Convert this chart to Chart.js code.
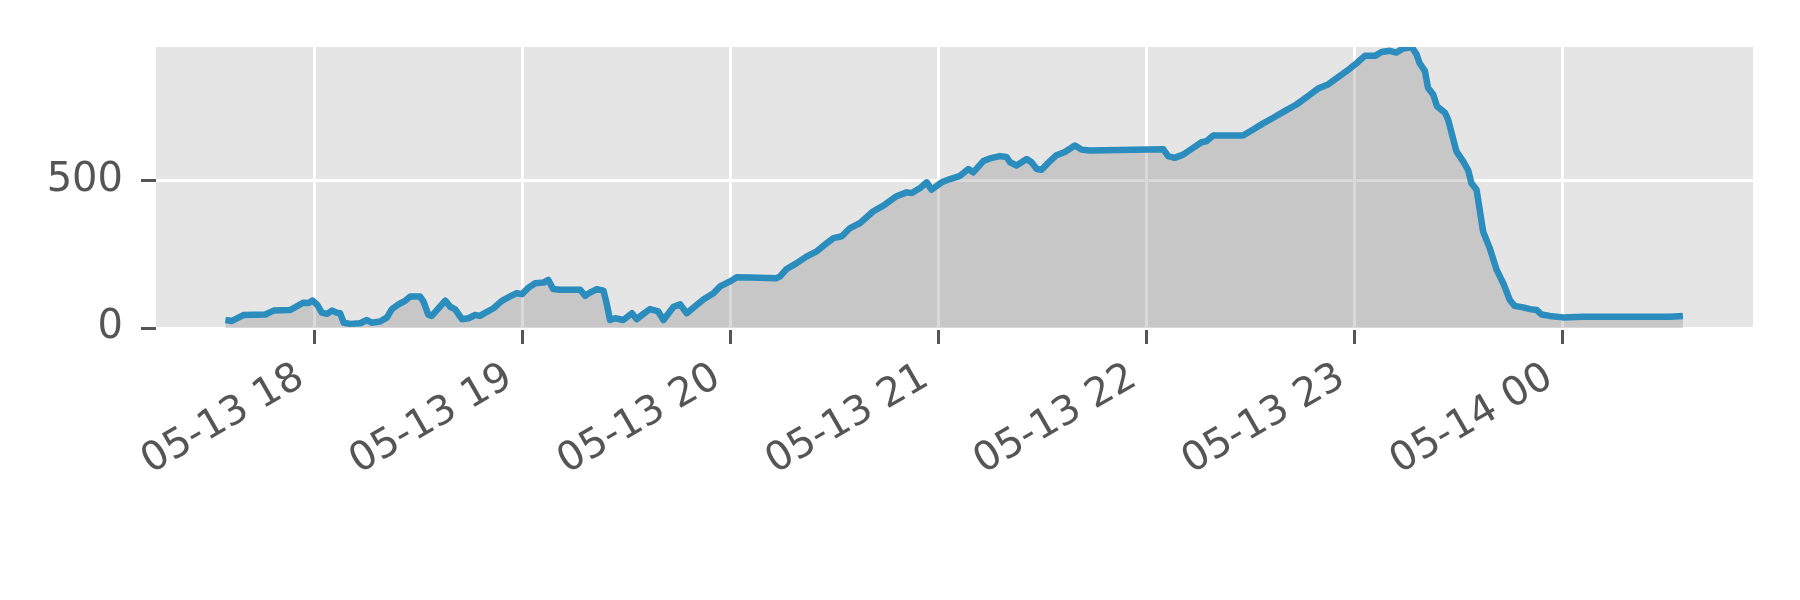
<!DOCTYPE html>
<html><head><meta charset="utf-8">
<script src="https://cdn.jsdelivr.net/npm/chart.js@4.4.1/dist/chart.umd.min.js"></script>
<style>html,body{margin:0;padding:0;background:#fff;}</style>
</head><body>
<canvas id="c" width="1800" height="600" style="width:1800px;height:600px;display:block"></canvas>
<script>
// time in minutes relative to 05-13 18:00
const minutesAfter18 = [
-25.6,-23.7,-20.4,-14.1,-11.7,-6.9,-3.1,-1.6,-0.5,0.8,2.2,3.7,5.1,6.5,7.5,8.5,10.4,13.3,15.2,16.6,
19.0,21.0,22.4,24.3,26.2,27.7,30.5,31.5,32.9,33.9,37.8,39.2,40.6,42.6,44.5,46.4,47.8,49.8,51.7,54.1,
56.5,58.4,59.9,61.8,63.7,66.1,67.5,68.9,70.9,76.7,78.1,79.5,81.5,83.4,84.3,85.3,86.8,89.1,91.6,93.0,
94.9,96.8,99.2,100.7,103.6,105.5,107.4,109.3,112.2,115.1,117.0,119.9,121.8,125.7,133.3,134.3,136.2,139.1,142.0,144.9,
147.8,149.7,152.1,154.5,157.4,161.2,164.1,167.9,170.8,172.3,174.7,176.6,178.0,180.9,183.3,186.2,188.6,190.0,192.9,194.8,
197.7,199.6,200.6,202.5,205.4,206.8,208.3,209.7,211.6,214.0,216.4,219.3,221.2,223.6,244.8,246.2,248.1,250.5,253.4,255.8,
257.3,259.2,267.8,270.7,273.6,276.5,279.4,283.2,286.6,289.4,292.3,295.7,298.6,300.5,302.9,305.8,307.7,310.1,312.0,313.9,
316.4,317.8,318.7,320.2,321.1,322.6,323.7,326.0,326.9,329.3,331.2,332.7,333.6,335.1,337.0,338.9,340.9,342.8,344.7,346.1,
348.5,350.5,352.4,353.8,356.2,360.0,365.8,390.8,394.6
];
const counts = [
27,24,44,46,59,61,86,85,93,80,52,48,59,52,50,18,14,16,27,18,
22,36,64,80,92,107,107,90,45,41,93,72,64,30,33,44,41,55,67,92,
107,118,115,137,152,154,163,132,130,130,109,120,132,127,84,27,33,27,50,30,
48,64,56,27,72,80,50,69,97,118,141,158,172,171,169,175,200,220,243,260,
288,305,311,339,356,396,415,447,460,458,475,494,469,494,505,516,539,528,566,575,
583,580,562,551,573,562,539,537,560,586,597,619,605,602,606,583,577,588,611,630,
634,653,653,673,694,713,733,758,787,812,826,855,880,898,923,923,936,940,934,948,
953,928,898,872,815,792,752,730,707,599,566,535,492,469,327,271,197,152,95,75,
70,64,61,46,41,36,38,38,41
];
const tickMinutes = [0, 60, 120, 180, 240, 300, 360];
const tickLabels = ['05-13 18', '05-13 19', '05-13 20', '05-13 21', '05-13 22', '05-13 23', '05-14 00'];
const yTickValues = [0, 500];
const xRange = [-45.6, 414.8];
const yRange = [0, 953];

const bgPlugin = {
  id: 'bg',
  beforeDraw(chart) {
    const a = chart.chartArea, ctx = chart.ctx;
    ctx.save();
    ctx.fillStyle = '#E5E5E5';
    ctx.fillRect(a.left, a.top, a.right - a.left, a.bottom - a.top);
    ctx.restore();
  }
};

const font = {family: 'DejaVu Sans', size: 40};
new Chart(document.getElementById('c'), {
  type: 'line',
  data: {
    datasets: [{
      data: minutesAfter18.map((m, i) => ({x: m, y: counts[i]})),
      borderColor: '#2b8cbe',
      borderWidth: 6.5,
      backgroundColor: 'rgba(128,128,128,0.3)',
      fill: 'origin',
      pointRadius: 0,
      tension: 0,
      borderJoinStyle: 'round',
      clip: 0
    }]
  },
  options: {
    responsive: false,
    animation: false,
    devicePixelRatio: 1,
    layout: {padding: {top: 47, right: 47, left: 0, bottom: 0}},
    plugins: {legend: {display: false}, tooltip: {enabled: false}},
    scales: {
      x: {
        type: 'linear', min: xRange[0], max: xRange[1],
        afterBuildTicks: s => { s.ticks = tickMinutes.map(v => ({value: v})); },
        afterFit: s => { s.height = 272; },
        ticks: {
          callback: v => tickLabels[tickMinutes.indexOf(v)],
          minRotation: 30, maxRotation: 30, autoSkip: false,
          color: '#555555', font: font, padding: 10, labelOffset: -13
        },
        grid: {color: '#ffffff', lineWidth: 3, tickColor: '#555555', tickLength: 16, tickWidth: 3},
        border: {display: false}
      },
      y: {
        min: yRange[0], max: yRange[1],
        afterBuildTicks: s => { s.ticks = yTickValues.map(v => ({value: v})); },
        afterFit: s => { s.width = 156; },
        ticks: {color: '#555555', font: font, padding: 18},
        grid: {color: '#ffffff', lineWidth: 3, tickColor: '#555555', tickLength: 15, tickWidth: 3},
        border: {display: false}
      }
    }
  },
  plugins: [bgPlugin]
});
</script>
</body></html>
